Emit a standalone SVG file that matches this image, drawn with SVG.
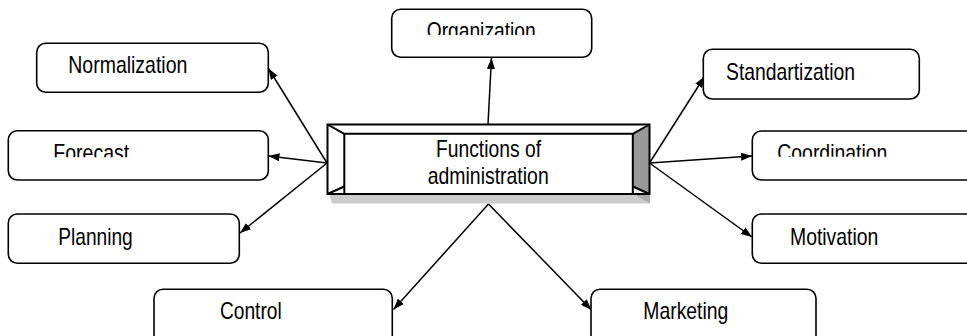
<svg xmlns="http://www.w3.org/2000/svg" width="967" height="336" viewBox="0 0 967 336">
<style>
.box{fill:#fff;stroke:#000;stroke-width:1.6}
.lbl{font-family:"Liberation Sans Narrow","Arial Narrow","Liberation Sans",Arial,sans-serif;font-size:24px;fill:#000}
.conn{stroke:#000;stroke-width:1.5;fill:none;marker-end:url(#arr)}
.edge{stroke:#000;stroke-width:2;fill:none}
</style>
<defs>
<marker id="arr" markerUnits="userSpaceOnUse" markerWidth="12" markerHeight="8" refX="11" refY="4" orient="auto">
<path d="M0,0 L11,4 L0,8 Z" fill="#000"/>
</marker>
<clipPath id="cOrg"><rect x="390" y="0" width="210" height="35"/></clipPath>
<clipPath id="cFor"><rect x="0" y="130" width="280" height="27.3"/></clipPath>
<clipPath id="cCoo"><rect x="750" y="130" width="217" height="26.7"/></clipPath>
</defs>
<rect width="967" height="336" fill="#fff"/>

<g id="connectors">
<line class="conn" x1="488" y1="124" x2="491.5" y2="58"/>
<line class="conn" x1="327" y1="163" x2="268.5" y2="68.5"/>
<line class="conn" x1="327" y1="163" x2="268.5" y2="156"/>
<line class="conn" x1="327" y1="163" x2="240" y2="233"/>
<line class="conn" x1="649.5" y1="163" x2="704.5" y2="76.5"/>
<line class="conn" x1="649.5" y1="163" x2="752" y2="156"/>
<line class="conn" x1="649.5" y1="163" x2="752" y2="237"/>
<line class="conn" x1="488.5" y1="204" x2="393.5" y2="309.5"/>
<line class="conn" x1="488.5" y1="204" x2="591.5" y2="310"/>
</g>

<g id="center">
<polygon points="329,194 650,194 650,203.5 332,203.5" fill="#cccccc"/>
<polygon points="634,194 650,194 650,203.5" fill="#aaaaaa"/>
<rect x="327.5" y="124.5" width="322" height="69.5" fill="#fff"/>
<polygon points="632.8,133.8 649.5,124.5 649.5,194 632.8,187" fill="#999999"/>
<rect x="327.5" y="124.5" width="322" height="69.5" class="edge"/>
<line class="edge" x1="344.3" y1="133.8" x2="632.8" y2="133.8"/>
<line class="edge" x1="344.3" y1="133.8" x2="344.3" y2="194"/>
<line class="edge" x1="632.8" y1="133.8" x2="632.8" y2="194"/>
<line class="edge" x1="327.5" y1="124.5" x2="344.3" y2="133.8"/>
<line class="edge" x1="649.5" y1="124.5" x2="632.8" y2="133.8"/>
<line class="edge" x1="327.5" y1="194" x2="344.3" y2="186.5"/>
<line class="edge" x1="649.5" y1="194" x2="632.8" y2="186.5"/>
<text class="lbl" x="436" y="157" textLength="105" lengthAdjust="spacingAndGlyphs">Functions of</text>
<text class="lbl" x="427.7" y="184" textLength="121" lengthAdjust="spacingAndGlyphs">administration</text>
</g>

<g id="organization">
<rect class="box" x="391.7" y="9.3" width="200" height="48" rx="9"/>
<text class="lbl" x="426.7" y="38.7" textLength="109" lengthAdjust="spacingAndGlyphs" clip-path="url(#cOrg)">Organization</text>
</g>

<g id="normalization">
<rect class="box" x="36.7" y="43.3" width="231.6" height="49" rx="9"/>
<text class="lbl" x="68.3" y="73.3" textLength="119" lengthAdjust="spacingAndGlyphs">Normalization</text>
</g>

<g id="forecast">
<rect class="box" x="8.3" y="130.7" width="260" height="49.3" rx="9"/>
<text class="lbl" x="53.3" y="161" textLength="76" lengthAdjust="spacingAndGlyphs" clip-path="url(#cFor)">Forecast</text>
</g>

<g id="planning">
<rect class="box" x="8.3" y="214" width="231" height="49.3" rx="9"/>
<text class="lbl" x="58.3" y="245" textLength="74.4" lengthAdjust="spacingAndGlyphs">Planning</text>
</g>

<g id="standartization">
<rect class="box" x="703.3" y="49.3" width="216" height="49.7" rx="9"/>
<text class="lbl" x="726" y="80" textLength="129" lengthAdjust="spacingAndGlyphs">Standartization</text>
</g>

<g id="coordination">
<rect class="box" x="752.3" y="131" width="240" height="49" rx="9"/>
<text class="lbl" x="777.3" y="161" textLength="110" lengthAdjust="spacingAndGlyphs" clip-path="url(#cCoo)">Coordination</text>
</g>

<g id="motivation">
<rect class="box" x="752.3" y="214" width="240" height="49.3" rx="9"/>
<text class="lbl" x="790" y="245" textLength="88.3" lengthAdjust="spacingAndGlyphs">Motivation</text>
</g>

<g id="control">
<rect class="box" x="154" y="289.3" width="238.3" height="60" rx="9"/>
<text class="lbl" x="220" y="319.3" textLength="61.7" lengthAdjust="spacingAndGlyphs">Control</text>
</g>

<g id="marketing">
<rect class="box" x="591" y="289.3" width="225" height="60" rx="9"/>
<text class="lbl" x="643.3" y="319.3" textLength="85" lengthAdjust="spacingAndGlyphs">Marketing</text>
</g>
</svg>
